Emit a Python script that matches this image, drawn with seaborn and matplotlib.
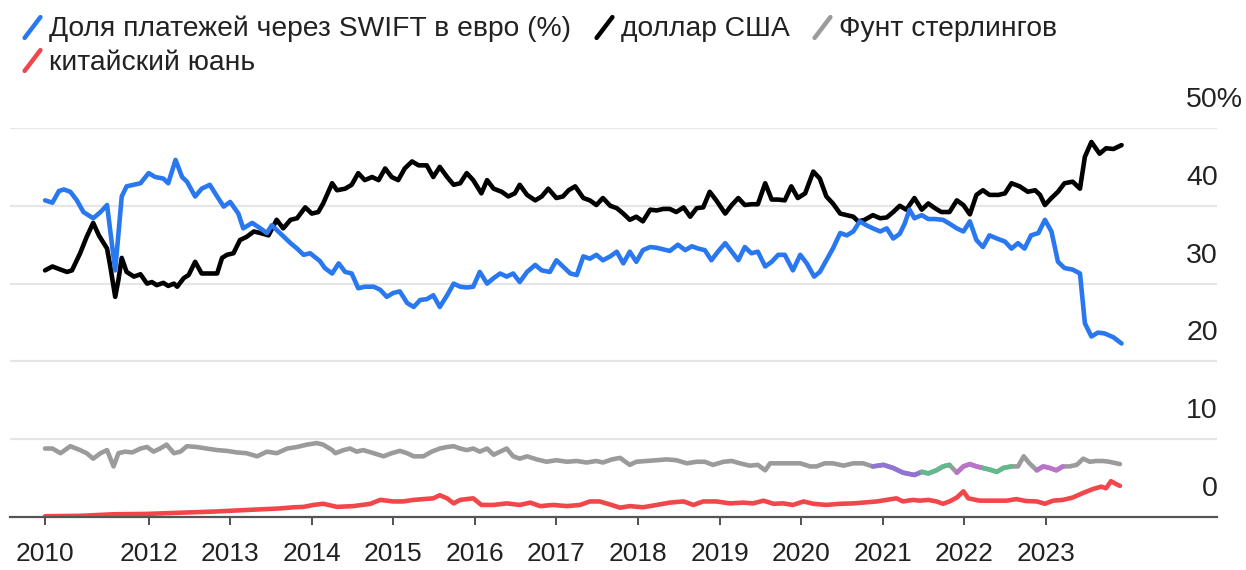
import numpy as np
import pandas as pd
import seaborn as sns
import matplotlib
matplotlib.use("Agg")
import matplotlib.pyplot as plt
import matplotlib.transforms as mtransforms
from matplotlib.lines import Line2D
from matplotlib.markers import MarkerStyle
from matplotlib.path import Path

# ---------------- data (share of SWIFT payments, %) ----------------
blue_name = "Доля платежей через SWIFT в евро (%)"
black_name = "доллар США"
gray_name = "Фунт стерлингов"
red_name = "китайский юань"

blue_x = [2010.73, 2010.82, 2010.90, 2010.96, 2011.04, 2011.12, 2011.20, 2011.32, 2011.41, 2011.49,
          2011.59, 2011.67, 2011.73, 2011.90, 2012.00, 2012.08, 2012.18, 2012.24, 2012.33, 2012.41,
          2012.47, 2012.57, 2012.65, 2012.75, 2012.84, 2012.92, 2013.00, 2013.10, 2013.16, 2013.27,
          2013.37, 2013.45, 2013.51, 2013.61, 2013.74, 2013.82, 2013.90, 2013.98, 2014.10, 2014.16,
          2014.25, 2014.33, 2014.41, 2014.49, 2014.57, 2014.65, 2014.76, 2014.84, 2014.92, 2015.00,
          2015.08, 2015.17, 2015.25, 2015.33, 2015.41, 2015.49, 2015.57, 2015.66, 2015.74, 2015.82,
          2015.90, 2015.98, 2016.06, 2016.15, 2016.23, 2016.31, 2016.39, 2016.47, 2016.55, 2016.64,
          2016.74, 2016.82, 2016.92, 2017.00, 2017.08, 2017.17, 2017.25, 2017.33, 2017.41, 2017.49,
          2017.57, 2017.66, 2017.74, 2017.82, 2017.90, 2017.98, 2018.06, 2018.15, 2018.23, 2018.31,
          2018.39, 2018.49, 2018.58, 2018.66, 2018.74, 2018.82, 2018.90, 2018.98, 2019.07, 2019.15,
          2019.23, 2019.31, 2019.39, 2019.47, 2019.56, 2019.64, 2019.72, 2019.80, 2019.90, 2019.99,
          2020.07, 2020.16, 2020.23, 2020.31, 2020.39, 2020.48, 2020.56, 2020.64, 2020.72, 2020.80,
          2020.88, 2020.97, 2021.05, 2021.13, 2021.21, 2021.27, 2021.33, 2021.39, 2021.48, 2021.56,
          2021.64, 2021.74, 2021.82, 2021.91, 2021.99, 2022.07, 2022.15, 2022.23, 2022.31, 2022.40,
          2022.50, 2022.58, 2022.66, 2022.74, 2022.82, 2022.91, 2022.99, 2023.07, 2023.15, 2023.23,
          2023.33, 2023.42, 2023.48, 2023.56, 2023.64, 2023.72, 2023.83, 2023.93]
blue_y = [40.7, 40.4, 41.9, 42.1, 41.8, 40.7, 39.2, 38.4, 39.2, 40.1,
          31.7, 41.2, 42.5, 42.9, 44.2, 43.7, 43.5, 42.9, 45.9, 43.7,
          43.1, 41.2, 42.2, 42.7, 41.2, 39.9, 40.5, 39.0, 37.1, 37.8,
          37.1, 36.5, 37.5, 36.5, 35.2, 34.5, 33.7, 33.9, 32.9, 32.0,
          31.3, 32.6, 31.5, 31.3, 29.4, 29.6, 29.6, 29.2, 28.3, 28.8,
          29.0, 27.5, 27.0, 27.9, 28.0, 28.5, 27.0, 28.5, 30.0, 29.6,
          29.5, 29.6, 31.5, 30.0, 30.7, 31.3, 30.9, 31.3, 30.2, 31.5,
          32.4, 31.7, 31.5, 33.0, 32.2, 31.3, 31.1, 33.5, 33.2, 33.7,
          33.0, 33.5, 34.1, 32.6, 34.1, 32.8, 34.3, 34.7, 34.6, 34.4,
          34.2, 35.0, 34.3, 34.8, 34.5, 34.3, 33.0, 34.1, 35.2, 34.1,
          33.0, 34.7, 33.9, 34.1, 32.2, 32.8, 33.7, 33.7, 31.7, 33.7,
          32.6, 30.9, 31.5, 33.0, 34.5, 36.5, 36.2, 36.7, 38.0, 37.5,
          37.1, 36.7, 37.1, 35.8, 36.4, 37.7, 39.5, 38.4, 38.8, 38.3,
          38.3, 38.2, 37.7, 37.1, 36.7, 38.0, 35.6, 34.7, 36.2, 35.8,
          35.4, 34.5, 35.2, 34.5, 36.2, 36.5, 38.2, 36.7, 32.8, 32.0,
          31.8, 31.3, 24.9, 23.2, 23.7, 23.6, 23.1, 22.3]

black_x = [2010.73, 2010.82, 2010.92, 2011.00, 2011.06, 2011.16, 2011.24, 2011.32, 2011.39, 2011.49,
           2011.53, 2011.59, 2011.63, 2011.67, 2011.73, 2011.82, 2011.90, 2011.98, 2012.04, 2012.10,
           2012.18, 2012.24, 2012.31, 2012.35, 2012.43, 2012.49, 2012.57, 2012.65, 2012.75, 2012.84,
           2012.90, 2012.96, 2013.04, 2013.12, 2013.20, 2013.29, 2013.37, 2013.47, 2013.57, 2013.65,
           2013.74, 2013.82, 2013.92, 2014.00, 2014.08, 2014.14, 2014.25, 2014.31, 2014.41, 2014.49,
           2014.57, 2014.65, 2014.74, 2014.82, 2014.90, 2014.98, 2015.06, 2015.14, 2015.23, 2015.31,
           2015.41, 2015.49, 2015.57, 2015.66, 2015.74, 2015.82, 2015.90, 2015.98, 2016.08, 2016.15,
           2016.23, 2016.33, 2016.41, 2016.49, 2016.55, 2016.64, 2016.74, 2016.82, 2016.90, 2017.00,
           2017.08, 2017.15, 2017.23, 2017.33, 2017.41, 2017.49, 2017.57, 2017.66, 2017.74, 2017.82,
           2017.90, 2017.98, 2018.06, 2018.15, 2018.23, 2018.31, 2018.39, 2018.47, 2018.56, 2018.64,
           2018.72, 2018.80, 2018.88, 2018.96, 2019.07, 2019.15, 2019.23, 2019.31, 2019.39, 2019.47,
           2019.56, 2019.64, 2019.72, 2019.80, 2019.88, 2019.96, 2020.05, 2020.15, 2020.23, 2020.31,
           2020.39, 2020.48, 2020.56, 2020.64, 2020.70, 2020.78, 2020.88, 2020.97, 2021.05, 2021.13,
           2021.21, 2021.29, 2021.39, 2021.48, 2021.56, 2021.64, 2021.72, 2021.82, 2021.91, 2021.99,
           2022.07, 2022.15, 2022.23, 2022.31, 2022.42, 2022.50, 2022.58, 2022.68, 2022.78, 2022.87,
           2022.93, 2022.99, 2023.07, 2023.15, 2023.23, 2023.33, 2023.42, 2023.48, 2023.56, 2023.66,
           2023.74, 2023.83, 2023.93]
black_y = [31.7, 32.2, 31.8, 31.5, 31.7, 33.9, 36.0, 37.8, 36.2, 34.5,
           32.2, 28.3, 30.5, 33.3, 31.5, 30.9, 31.2, 30.0, 30.2, 29.8,
           30.1, 29.7, 30.0, 29.6, 30.7, 31.1, 32.8, 31.3, 31.3, 31.3,
           33.3, 33.7, 33.9, 35.6, 36.0, 36.7, 36.5, 36.2, 38.2, 37.1,
           38.2, 38.4, 39.8, 39.0, 39.2, 40.3, 42.9, 42.0, 42.2, 42.7,
           44.2, 43.3, 43.7, 43.3, 44.8, 43.7, 43.3, 44.8, 45.7, 45.2,
           45.2, 43.7, 45.0, 43.7, 42.7, 42.9, 44.2, 43.3, 41.6, 43.3,
           42.2, 41.8, 41.2, 41.6, 42.7, 41.4, 40.7, 41.2, 42.2, 41.0,
           41.2, 42.0, 42.5, 41.0, 40.7, 40.1, 41.0, 40.0, 39.7, 39.0,
           38.2, 38.6, 38.0, 39.5, 39.4, 39.6, 39.6, 39.2, 39.8, 38.6,
           39.7, 39.8, 41.8, 40.7, 39.0, 40.1, 41.0, 40.1, 40.2, 40.2,
           42.9, 40.8, 40.8, 40.7, 42.5, 41.0, 41.6, 44.4, 43.5, 41.2,
           40.3, 39.0, 38.8, 38.6, 38.0, 38.2, 38.8, 38.4, 38.5, 39.2,
           40.0, 39.5, 41.0, 39.5, 40.3, 39.7, 39.2, 39.2, 40.7, 40.1,
           38.9, 41.4, 42.0, 41.4, 41.4, 41.6, 42.9, 42.5, 41.8, 42.0,
           41.4, 40.1, 41.0, 41.8, 42.9, 43.1, 42.2, 46.3, 48.2, 46.7,
           47.4, 47.3, 47.8]

gray_x = [2010.73, 2010.82, 2010.92, 2011.04, 2011.16, 2011.24, 2011.32, 2011.41, 2011.49, 2011.57,
          2011.63, 2011.71, 2011.80, 2011.90, 2011.98, 2012.06, 2012.14, 2012.22, 2012.31, 2012.39,
          2012.47, 2012.59, 2012.71, 2012.84, 2012.96, 2013.08, 2013.20, 2013.33, 2013.45, 2013.57,
          2013.70, 2013.82, 2013.94, 2014.06, 2014.14, 2014.25, 2014.29, 2014.39, 2014.47, 2014.55,
          2014.63, 2014.76, 2014.88, 2014.98, 2015.08, 2015.17, 2015.25, 2015.37, 2015.47, 2015.57,
          2015.66, 2015.74, 2015.82, 2015.90, 2015.98, 2016.06, 2016.15, 2016.23, 2016.31, 2016.39,
          2016.47, 2016.55, 2016.64, 2016.76, 2016.88, 2017.00, 2017.13, 2017.25, 2017.37, 2017.49,
          2017.57, 2017.68, 2017.78, 2017.90, 2017.98, 2018.11, 2018.23, 2018.35, 2018.47, 2018.60,
          2018.72, 2018.82, 2018.92, 2019.05, 2019.15, 2019.25, 2019.37, 2019.47, 2019.56, 2019.62,
          2019.74, 2019.86, 2019.99, 2020.11, 2020.19, 2020.29, 2020.39, 2020.52, 2020.64, 2020.76,
          2020.88, 2021.01, 2021.13, 2021.25, 2021.39, 2021.48, 2021.56, 2021.66, 2021.74, 2021.82,
          2021.91, 2021.99, 2022.07, 2022.15, 2022.23, 2022.31, 2022.40, 2022.48, 2022.58, 2022.66,
          2022.73, 2022.80, 2022.89, 2022.97, 2023.05, 2023.13, 2023.21, 2023.29, 2023.38, 2023.46,
          2023.54, 2023.62, 2023.70, 2023.78, 2023.91]
gray_y = [8.8, 8.8, 8.2, 9.1, 8.6, 8.2, 7.5, 8.2, 8.6, 6.5,
          8.2, 8.4, 8.3, 8.8, 9.0, 8.4, 8.8, 9.3, 8.2, 8.4,
          9.1, 9.0, 8.8, 8.6, 8.5, 8.3, 8.2, 7.8, 8.4, 8.2,
          8.8, 9.0, 9.3, 9.5, 9.3, 8.6, 8.2, 8.6, 8.8, 8.4,
          8.6, 8.2, 7.8, 8.2, 8.5, 8.2, 7.8, 7.8, 8.4, 8.8,
          9.0, 9.1, 8.8, 8.6, 8.8, 8.4, 8.8, 8.0, 8.4, 8.8,
          7.8, 7.5, 7.8, 7.4, 7.1, 7.3, 7.1, 7.2, 7.0, 7.2,
          7.0, 7.4, 7.6, 6.7, 7.1, 7.2, 7.3, 7.4, 7.3, 6.9,
          7.1, 7.1, 6.7, 7.1, 7.2, 6.9, 6.6, 6.7, 6.0, 6.9,
          6.9, 6.9, 6.9, 6.5, 6.5, 6.9, 6.9, 6.6, 6.9, 6.9,
          6.5, 6.7, 6.3, 5.7, 5.4, 5.8, 5.6, 6.0, 6.5, 6.7,
          5.7, 6.5, 6.8, 6.5, 6.3, 6.1, 5.8, 6.3, 6.5, 6.5,
          7.8, 6.9, 6.0, 6.5, 6.3, 6.0, 6.5, 6.5, 6.7, 7.5,
          7.1, 7.2, 7.2, 7.1, 6.8]

red_x = [2010.73, 2011.16, 2011.57, 2011.98, 2012.39, 2012.80, 2013.20, 2013.61, 2013.78, 2013.90,
         2014.02, 2014.14, 2014.31, 2014.51, 2014.72, 2014.84, 2015.00, 2015.12, 2015.25, 2015.37,
         2015.49, 2015.57, 2015.66, 2015.74, 2015.82, 2015.90, 2015.98, 2016.08, 2016.23, 2016.39,
         2016.55, 2016.68, 2016.80, 2016.96, 2017.13, 2017.29, 2017.41, 2017.53, 2017.66, 2017.78,
         2017.90, 2018.06, 2018.23, 2018.39, 2018.56, 2018.68, 2018.80, 2018.96, 2019.13, 2019.29,
         2019.41, 2019.54, 2019.66, 2019.78, 2019.90, 2020.03, 2020.15, 2020.31, 2020.48, 2020.64,
         2020.76, 2020.93, 2021.05, 2021.17, 2021.25, 2021.37, 2021.46, 2021.56, 2021.66, 2021.74,
         2021.82, 2021.91, 2021.99, 2022.05, 2022.19, 2022.35, 2022.52, 2022.64, 2022.76, 2022.89,
         2022.99, 2023.09, 2023.21, 2023.33, 2023.46, 2023.58, 2023.68, 2023.74, 2023.80, 2023.87,
         2023.91]
red_y = [0.1, 0.15, 0.35, 0.4, 0.55, 0.7, 0.9, 1.1, 1.25, 1.3,
         1.55, 1.7, 1.3, 1.4, 1.7, 2.2, 2.0, 2.0, 2.2, 2.3,
         2.4, 2.8, 2.4, 1.75, 2.2, 2.3, 2.4, 1.55, 1.55, 1.75,
         1.55, 1.85, 1.4, 1.55, 1.4, 1.55, 2.0, 2.0, 1.6, 1.2,
         1.4, 1.25, 1.55, 1.85, 2.0, 1.55, 2.0, 2.0, 1.75, 1.85,
         1.75, 2.1, 1.7, 1.75, 1.55, 2.0, 1.7, 1.55, 1.7, 1.75,
         1.85, 2.0, 2.2, 2.4, 2.0, 2.2, 2.1, 2.2, 2.0, 1.7,
         2.0, 2.5, 3.3, 2.4, 2.1, 2.1, 2.1, 2.3, 2.05, 2.0,
         1.7, 2.1, 2.2, 2.5, 3.1, 3.6, 3.9, 3.7, 4.6, 4.2,
         4.0]

# short stretches where other (unlabelled) currency lines sit on top of the pound line
overlay_spans = [(2020.85, 2021.48, "#8f74d6"), (2021.48, 2021.88, "#63b98c"),
                 (2021.91, 2022.23, "#bb72cc"), (2022.23, 2022.58, "#63b98c"),
                 (2022.87, 2023.21, "#bb72cc")]

tick_pos = [2010.73, 2012, 2013, 2014, 2015, 2016, 2017, 2018, 2019, 2020, 2021, 2022, 2023]
tick_labels = ["2010", "2012", "2013", "2014", "2015", "2016", "2017", "2018",
               "2019", "2020", "2021", "2022", "2023"]
y_levels = [0, 10, 20, 30, 40, 50]

# ---------------- style ----------------
colors = {blue_name: "#2a78f0", black_name: "#000000", gray_name: "#9b9b9b", red_name: "#f2464b"}
text_color = "#222222"

sns.set_theme(style="white")
plt.rcParams["font.family"] = ["Liberation Sans", "DejaVu Sans"]

df = pd.concat([
    pd.DataFrame({"year": gray_x, "share": gray_y, "currency": gray_name}),
    pd.DataFrame({"year": red_x, "share": red_y, "currency": red_name}),
    pd.DataFrame({"year": black_x, "share": black_y, "currency": black_name}),
    pd.DataFrame({"year": blue_x, "share": blue_y, "currency": blue_name}),
], ignore_index=True)

W, H = 1246, 570
fig = plt.figure(figsize=(W / 100, H / 100), dpi=100)
ax = fig.add_axes([10 / W, 1 - 517 / H, 1207 / W, 389 / H])

lw = 3.3
sns.lineplot(data=df[df.currency.isin([gray_name, red_name])], x="year", y="share",
             hue="currency", hue_order=[gray_name, red_name],
             palette=colors, estimator=None, sort=True, linewidth=lw,
             legend=False, ax=ax, solid_joinstyle="round", solid_capstyle="round")

gdf = df[df.currency == gray_name]
for x0, x1, c in overlay_spans:
    seg = gdf[(gdf.year >= x0) & (gdf.year <= x1)]
    sns.lineplot(data=seg, x="year", y="share", color=c, estimator=None, sort=True,
                 linewidth=lw, legend=False, ax=ax, solid_joinstyle="round",
                 solid_capstyle="round")

sns.lineplot(data=df[df.currency.isin([black_name, blue_name])], x="year", y="share",
             hue="currency", hue_order=[black_name, blue_name],
             palette=colors, estimator=None, sort=True, linewidth=lw,
             legend=False, ax=ax, solid_joinstyle="round", solid_capstyle="round")

ax.set_xlim(2010.30, 2025.10)
ax.set_ylim(0, 50)
ax.set_xlabel("")
ax.set_ylabel("")

for s in ["top", "left", "right"]:
    ax.spines[s].set_visible(False)
ax.spines["bottom"].set_color("#555555")
ax.spines["bottom"].set_linewidth(1.6)
ax.spines["bottom"].set_zorder(5)

ax.set_yticks(y_levels[1:])
ax.yaxis.grid(True, color="#e6e6e6", linewidth=1.6)
ax.set_axisbelow(True)
ax.tick_params(axis="y", left=False, right=False, labelleft=False, labelright=False)

ax.set_xticks(tick_pos)
ax.set_xticklabels(tick_labels)
ax.tick_params(axis="x", bottom=True, direction="out", length=6, width=1.2,
               color="#333333", pad=12, labelsize=19, labelcolor=text_color)

trans = mtransforms.blended_transform_factory(ax.transAxes, ax.transData)
for v in y_levels:
    if v == 50:
        ax.text(1.0215, v + 3.6, f"{v}%", transform=trans, ha="right", va="center",
                fontsize=20.5, color=text_color, clip_on=False)
    else:
        ax.text(1.0008, v + 3.6, f"{v}", transform=trans, ha="right", va="center",
                fontsize=20.5, color=text_color, clip_on=False)

# ---------------- legend ----------------
slash = MarkerStyle(Path([(-0.38, -0.5), (0.38, 0.5)], [Path.MOVETO, Path.LINETO]), capstyle="round")
order = [blue_name, red_name, black_name, gray_name]
handles = [Line2D([], [], linestyle="None", marker=slash, markersize=15, markeredgewidth=3.2,
                  markeredgecolor=colors[n], markerfacecolor="none") for n in order]
fig.legend(handles, order, loc="upper left", bbox_to_anchor=(24 / W, 1 - 16 / H), ncol=3,
           frameon=False, fontsize=20.3, handlelength=0.6, handletextpad=0.3,
           columnspacing=0.85, labelspacing=0.25, borderpad=0, borderaxespad=0,
           labelcolor=text_color)

fig.savefig("out.png", dpi=100)
